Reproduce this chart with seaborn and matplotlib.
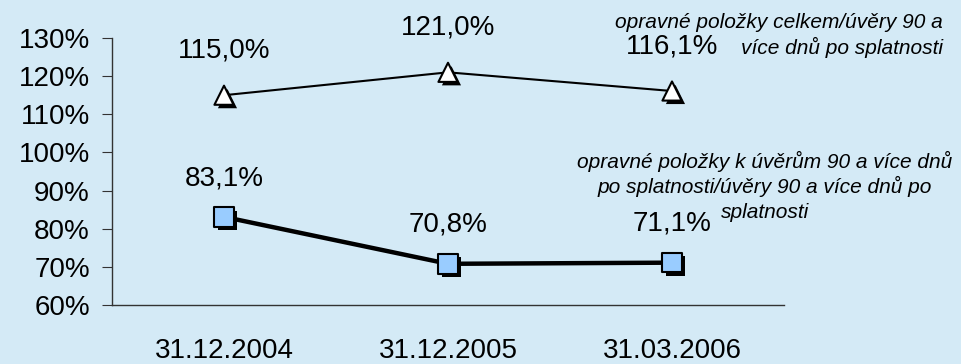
import pandas as pd
import matplotlib
matplotlib.use("Agg")
import matplotlib.pyplot as plt
import matplotlib.patheffects as pe
import seaborn as sns

dates = ["31.12.2004", "31.12.2005", "31.03.2006"]
celkem = [115.0, 121.0, 116.1]
k_uverum = [83.1, 70.8, 71.1]
label_celkem = ["opravné položky celkem/úvěry 90 a", "více dnů po splatnosti"]
label_k_uverum = ["opravné položky k úvěrům 90 a více dnů",
                  "po splatnosti/úvěry 90 a více dnů po", "splatnosti"]

bg = "#d4eaf6"
sns.set_style("white")
plt.rcParams["font.family"] = ["Liberation Sans", "DejaVu Sans"]
plt.rcParams["text.color"] = "black"
plt.rcParams["xtick.labelcolor"] = "black"
plt.rcParams["ytick.labelcolor"] = "black"

df = pd.DataFrame({"datum": dates, "celkem": celkem, "k_uverum": k_uverum})

fig = plt.figure(figsize=(9.61, 3.64), dpi=100, facecolor=bg)
ax = fig.add_axes([112 / 961, 59 / 364, 672 / 961, 267 / 364])
ax.set_facecolor(bg)

shadow = [pe.SimplePatchShadow(offset=(2.5, -2.5), shadow_rgbFace="black", alpha=1.0), pe.Normal()]

# lines
sns.lineplot(data=df, x="datum", y="celkem", ax=ax, color="black", linewidth=1.5)
sns.lineplot(data=df, x="datum", y="k_uverum", ax=ax, color="black", linewidth=3.2)

# markers with shadow
sns.scatterplot(data=df, x="datum", y="celkem", ax=ax, marker="^", s=190,
                color="white", edgecolor="black", linewidth=1.5, zorder=3)
ax.collections[-1].set_path_effects(shadow)
sns.scatterplot(data=df, x="datum", y="k_uverum", ax=ax, marker="s", s=200,
                color="#99ccff", edgecolor="black", linewidth=1.5, zorder=3)
ax.collections[-1].set_path_effects(shadow)

for i, v in enumerate(celkem):
    ax.annotate(f"{v:.1f}%".replace(".", ","), (i, v), xytext=(0, 32),
                textcoords="offset points", ha="center", va="center", fontsize=20)
for i, v in enumerate(k_uverum):
    ax.annotate(f"{v:.1f}%".replace(".", ","), (i, v), xytext=(0, 28),
                textcoords="offset points", ha="center", va="center", fontsize=20)

# series descriptions, one text per line
for j, line in enumerate(label_celkem):
    fig.text(943 / 961, 1 - (22 + 25 * j) / 364, line, ha="right", va="center",
             fontsize=15, style="italic")
for j, line in enumerate(label_k_uverum):
    fig.text(765 / 961, 1 - (161 + 25.5 * j) / 364, line, ha="center", va="center",
             fontsize=15, style="italic")

ax.set_xlim(-0.5, 2.5)
ax.set_ylim(60, 130)
ax.set_yticks(range(60, 131, 10))
ax.set_yticklabels([f"{t}%" for t in range(60, 131, 10)], fontsize=20)
ax.set_xticks([-0.5, 0.5, 1.5, 2.5])
ax.set_xticklabels([])
ax.set_xticks([0, 1, 2], minor=True)
ax.set_xticklabels(dates, minor=True, fontsize=20)
ax.tick_params(axis="x", which="major", direction="in", length=7, color="#333333")
ax.tick_params(axis="x", which="minor", length=0, pad=24)
ax.tick_params(axis="y", direction="out", length=7, color="#333333", pad=9, left=True)
ax.set_xlabel("")
ax.set_ylabel("")

for s in ["top", "right"]:
    ax.spines[s].set_visible(False)
for s in ["left", "bottom"]:
    ax.spines[s].set_color("#333333")
    ax.spines[s].set_linewidth(1)

fig.savefig("out.png", dpi=100, facecolor=bg)
